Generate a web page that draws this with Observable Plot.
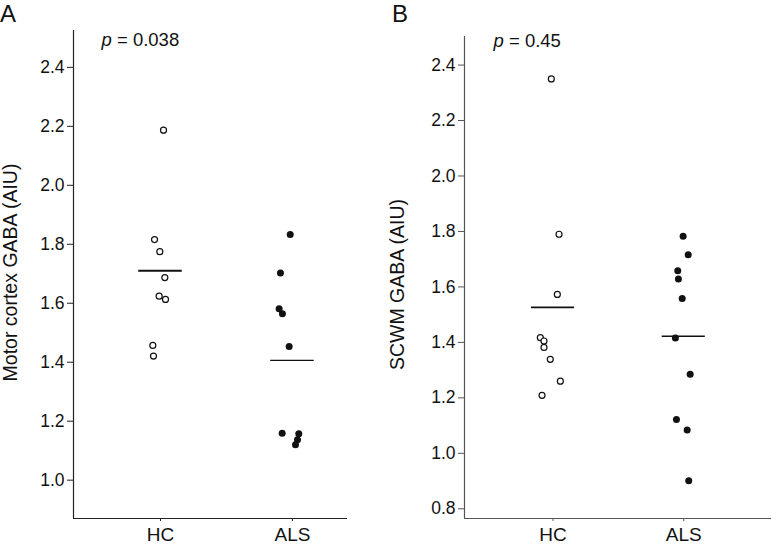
<!DOCTYPE html>
<html>
<head>
<meta charset="utf-8">
<script src="https://cdn.jsdelivr.net/npm/d3@7"></script>
<script src="https://cdn.jsdelivr.net/npm/@observablehq/plot@0.6"></script>
<style>
  html, body { margin: 0; padding: 0; background: #fff; }
  #wrap { display: flex; width: 772px; height: 544px; }
  svg { font-family: "Liberation Sans", Arial, sans-serif; }
</style>
</head>
<body>
<div id="wrap"></div>
<script>
// ---------- data ----------
const groups = ["HC", "ALS"];

// Panel A: Motor cortex GABA (AIU)
const motorHC  = [2.187, 1.816, 1.775, 1.687, 1.624, 1.613, 1.457, 1.421];
const motorHCJitter  = [0.023, -0.045, -0.005, 0.033, -0.010, 0.038, -0.058, -0.053];
const motorALS = [1.833, 1.703, 1.581, 1.564, 1.453, 1.159, 1.157, 1.137, 1.120];
const motorALSJitter = [-0.017, -0.091, -0.101, -0.076, -0.025, -0.078, 0.048, 0.038, 0.023];
const motorMeans = [1.710, 1.406];
const motorP = "0.038";

// Panel B: SCWM GABA (AIU)
const scwmHC  = [2.350, 1.790, 1.573, 1.417, 1.405, 1.382, 1.339, 1.260, 1.209];
const scwmHCJitter  = [-0.013, 0.046, 0.033, -0.097, -0.069, -0.069, -0.021, 0.056, -0.084];
const scwmALS = [1.783, 1.716, 1.658, 1.629, 1.558, 1.416, 1.285, 1.122, 1.084, 0.901];
const scwmALSJitter = [-0.005, 0.034, -0.046, -0.041, -0.012, -0.064, 0.049, -0.056, 0.026, 0.038];
const scwmMeans = [1.526, 1.422];
const scwmP = "0.45";

const motorTicks = [1.0, 1.2, 1.4, 1.6, 1.8, 2.0, 2.2, 2.4];
const scwmTicks  = [0.8, 1.0, 1.2, 1.4, 1.6, 1.8, 2.0, 2.2, 2.4];

// ---------- helpers ----------
function rows(values, jitter, gi) {
  return values.map((v, i) => ({group: gi + 1, jit: jitter[i], value: v}));
}

function panel(cfg) {
  const hc = rows(cfg.hc, cfg.hcJ, 0);
  const als = rows(cfg.als, cfg.alsJ, 1);
  const means = cfg.means.map((m, i) => ({group: i + 1, value: m}));
  const [x0] = cfg.xDomain;
  const [y0] = cfg.yDomain;
  const half = 0.165;

  const plot = Plot.plot({
    width: 386,
    height: 544,
    marginLeft: cfg.ml, marginRight: cfg.mr, marginTop: cfg.mt, marginBottom: 26,
    style: {fontFamily: '"Liberation Sans", Arial, sans-serif', background: "white", color: "#111"},
    x: {type: "linear", domain: cfg.xDomain},
    y: {domain: cfg.yDomain},
    marks: [
      Plot.axisY({
        ticks: cfg.yTicks, tickFormat: d3.format(".1f"),
        tickSize: 6, tickPadding: 3, fontSize: 17.5, label: null,
        stroke: cfg.axisColor
      }),
      Plot.axisX({
        ticks: [1, 2], tickFormat: d => groups[Math.round(d) - 1],
        tickSize: 3, tickPadding: 6, fontSize: 19, label: null,
        stroke: cfg.axisColor
      }),
      Plot.ruleX([x0], {stroke: cfg.axisColor, strokeWidth: 1.2}),
      Plot.ruleY([y0], {stroke: cfg.axisColor, strokeWidth: 1.2}),
      Plot.ruleY(means, {
        y: "value",
        x1: d => d.group - half,
        x2: d => d.group + half,
        stroke: "#111",
        strokeWidth: (d) => d.group === 1 ? cfg.hcMeanW : cfg.alsMeanW
      }),
      Plot.dot(hc, {x: d => d.group + d.jit, y: "value", r: 3, stroke: "#111", strokeWidth: 1.2, fill: "white"}),
      Plot.dot(als, {x: d => d.group + d.jit, y: "value", r: 3.5, fill: "#111", stroke: "none"}),
      Plot.text([cfg.p], {
        frameAnchor: "top-left", dx: cfg.pdx, dy: cfg.pdy,
        text: d => "p = " + d, fontSize: 18.5, textAnchor: "start", lineAnchor: "bottom", fill: "#111",
        className: "pval"
      }),
      Plot.text([cfg.ylabel], {
        frameAnchor: "left", dx: cfg.ldx - cfg.ml, dy: cfg.ldy,
        text: d => d, rotate: -90, fontSize: 19.5, textAnchor: "middle", lineAnchor: "bottom", fill: "#111"
      })
    ]
  });

  const svg = d3.select(plot);
  svg.attr("overflow", "visible");
  // italic "p"
  svg.selectAll("g.pval text").each(function () {
    const t = d3.select(this);
    const s = t.text();
    t.text(null);
    t.append("tspan").attr("font-style", "italic").text(s.slice(0, 1));
    t.append("tspan").text(s.slice(1));
  });
  // panel letter
  svg.append("text")
    .attr("x", cfg.letterX).attr("y", 22)
    .attr("text-anchor", "start")
    .attr("font-size", 24).attr("fill", "#111")
    .attr("font-family", '"Liberation Sans", Arial, sans-serif')
    .text(cfg.letter);
  return plot;
}

const wrap = document.getElementById("wrap");
wrap.appendChild(panel({
  hc: motorHC, hcJ: motorHCJitter, als: motorALS, alsJ: motorALSJitter,
  means: motorMeans, p: motorP, yTicks: motorTicks,
  xDomain: [0.341, 2.417], yDomain: [0.87, 2.525],
  ml: 73, mr: 39, mt: 30,
  axisColor: "#222", hcMeanW: 2, alsMeanW: 1.3,
  pdx: 28, pdy: 15,
  ylabel: "Motor cortex GABA (AIU)", ldx: 16, ldy: -2,
  letter: "A", letterX: 0
}));
wrap.appendChild(panel({
  hc: scwmHC, hcJ: scwmHCJitter, als: scwmALS, alsJ: scwmALSJitter,
  means: scwmMeans, p: scwmP, yTicks: scwmTicks,
  xDomain: [0.323, 2.671], yDomain: [0.765, 2.503],
  ml: 78, mr: 1, mt: 36,
  axisColor: "#555", hcMeanW: 1.7, alsMeanW: 1.4,
  pdx: 29, pdy: 10,
  ylabel: "SCWM GABA (AIU)", ldx: 17, ldy: 7,
  letter: "B", letterX: 6
}));
</script>
</body>
</html>
